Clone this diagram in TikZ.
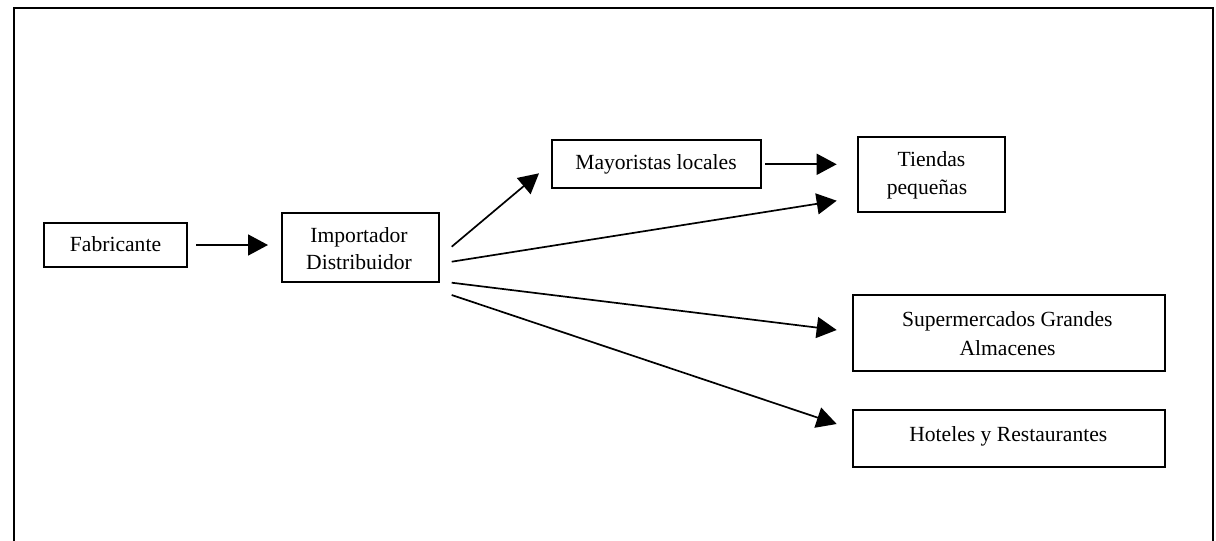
\documentclass[tikz,border=0pt]{standalone}
\usepackage{fontspec}
\setmainfont{Liberation Serif}
\usetikzlibrary{arrows.meta}
\begin{document}
\begin{tikzpicture}[x=1pt,y=-1pt,
  box/.style={draw, line width=1.6pt, inner sep=0pt, outer sep=0pt},
  lbl/.style={anchor=base, inner sep=0pt, font=\fontsize{21.6}{26}\selectfont},
  arr/.style={line width=1.7pt, -{Triangle[length=20pt,width=21pt]}},
  frame/.style={line width=1.6pt}]
\useasboundingbox (0,0) rectangle (1216,541);
% outer frame, open at the bottom
\draw[frame] (14,541) -- (14,8) -- (1213,8) -- (1213,541);

% boxes
\node[box, minimum width=143pt, minimum height=44pt] (fab) at (115.5,245) {};
\node[box, minimum width=157pt, minimum height=69pt] (imp) at (360.5,247.5) {};
\node[box, minimum width=209pt, minimum height=48pt] (may) at (656.5,164) {};
\node[box, minimum width=147pt, minimum height=75pt] (tie) at (931.5,174.5) {};
\node[box, minimum width=312pt, minimum height=76pt] (sup) at (1009,333) {};
\node[box, minimum width=312pt, minimum height=57pt] (hot) at (1009,438.5) {};

% texts
\node[lbl] (fabA) at (115.5,251.7) {Fabricante};
\node[lbl] (impA) at (359,242.7) {Importador};
\node[lbl] (impB) at (359,269.3) {Distribuidor};
\node[lbl] (mayA) at (656,169) {Mayoristas locales};
\node[lbl] (tieA) at (931.5,166.7) {Tiendas};
\node[lbl] (tieB) at (927,194) {pequeñas};
\node[lbl] (supA) at (1007.3,326.7) {Supermercados Grandes};
\node[lbl] (supB) at (1007.5,355) {Almacenes};
\node[lbl] (hotA) at (1008.3,441.7) {Hoteles y Restaurantes};

% connectors
\draw[arr] ([shift={(9,0)}]fab.east) -- ([shift={(-14,-2.5)}]imp.west);
\draw[arr] ([shift={(12.7,-0.8)}]imp.east) -- ([shift={(-13,-14.7)}]may.south west);
\draw[arr] ([shift={(12.7,14.2)}]imp.east) -- ([shift={(-21.3,-11.3)}]tie.south west);
\draw[arr] ([shift={(4,0.3)}]may.east) -- ([shift={(-21.3,-10.2)}]tie.west);
\draw[arr] ([shift={(12.7,0.7)}]imp.south east) -- ([shift={(-16.3,-3)}]sup.west);
\draw[arr] ([shift={(12.7,13)}]imp.south east) -- ([shift={(-16.3,-14.5)}]hot.west);
\end{tikzpicture}
\end{document}
